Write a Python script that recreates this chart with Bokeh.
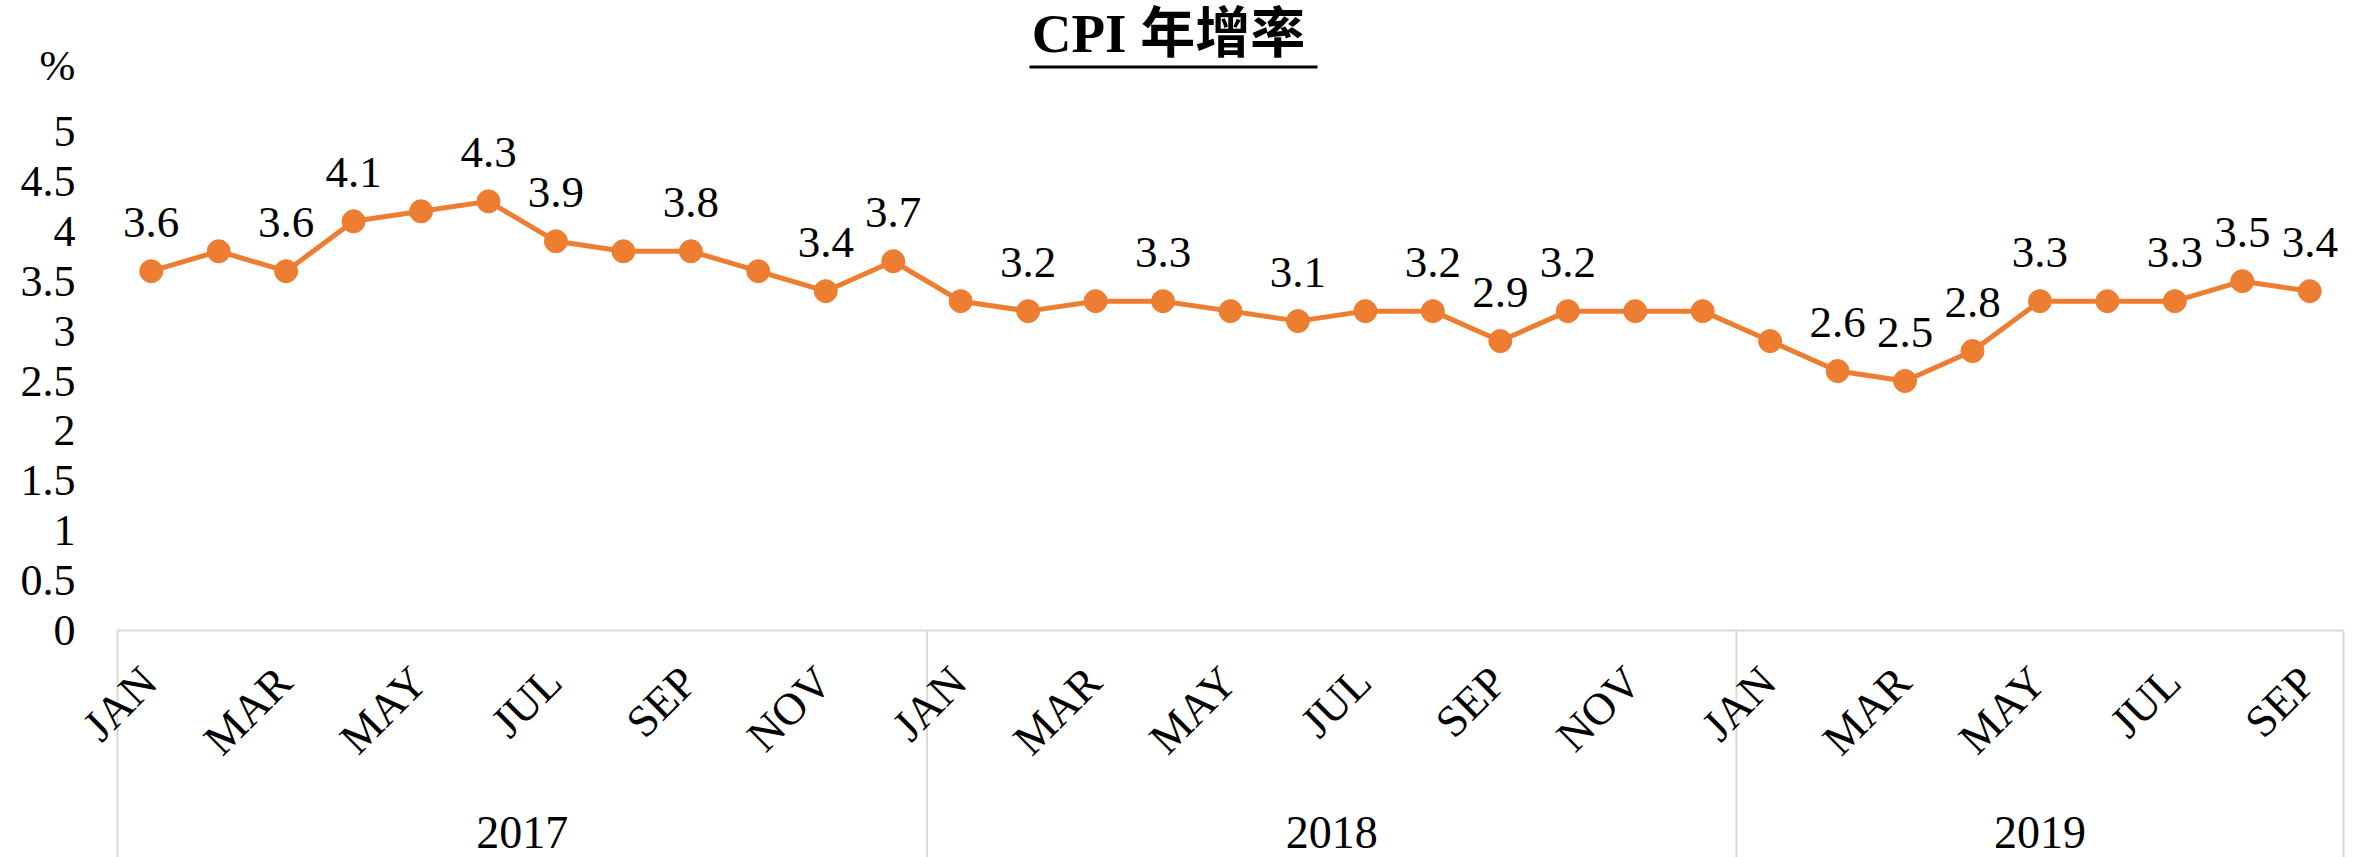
import math
from bokeh.plotting import figure
from bokeh.models import Range1d, FixedTicker, CustomJSTickFormatter, ColumnDataSource
from bokeh.core.properties import value
from bokeh.embed import file_html
from bokeh.resources import INLINE

# ---------------- data ----------------
YEARS = ["2017", "2018", "2019"]
MONTHS_PER_YEAR = [12, 12, 9]
MONTH_NAMES = ["JAN", "FEB", "MAR", "APR", "MAY", "JUN",
               "JUL", "AUG", "SEP", "OCT", "NOV", "DEC"]
CPI_2017 = [3.6, 3.8, 3.6, 4.1, 4.2, 4.3, 3.9, 3.8, 3.8, 3.6, 3.4, 3.7]
CPI_2018 = [3.3, 3.2, 3.3, 3.3, 3.2, 3.1, 3.2, 3.2, 2.9, 3.2, 3.2, 3.2]
CPI_2019 = [2.9, 2.6, 2.5, 2.8, 3.3, 3.3, 3.3, 3.5, 3.4]
# points that carry a data label (index into the 33-month series)
LABELED = [0, 2, 3, 5, 6, 8, 10, 11, 13, 15, 17, 19, 20, 21, 25, 26, 27, 28, 30, 31, 32]
Y_TICKS = [0, 0.5, 1, 1.5, 2, 2.5, 3, 3.5, 4, 4.5, 5]
TITLE = "CPI 年增率"
UNIT = "%"

# ---------------- layout constants ----------------
W, H = 2366, 857
FRAME_R = 2348              # frame right edge (px)
X0_PX, X33_PX = 117, 2343   # category axis extent (px)
Y0_PX, Y5_PX = 630, 131     # value 0 and value 5 (px from top)
PX_X = (X33_PX - X0_PX) / 33.0
PX_Y = (Y0_PX - Y5_PX) / 5.0

def sx(px):
    return (px - X0_PX) / PX_X

def sy(py):
    return (Y0_PX - py) / PX_Y

SERIF = "'Liberation Serif', 'Times New Roman', serif"
TITLE_FONT = "'Liberation Serif', 'Noto Sans CJK TC', serif"
ORANGE = "#ED7D31"
GREY = "#D9D9D9"

values = CPI_2017 + CPI_2018 + CPI_2019
n = len(values)
xs = [i + 0.5 for i in range(n)]

p = figure(width=W, height=H, output_backend="svg", toolbar_location=None,
           x_axis_location=None, y_axis_location="left",
           x_range=Range1d(sx(0), sx(FRAME_R)),
           y_range=Range1d(sy(H), sy(0)),
           min_border_left=0, min_border_right=W - FRAME_R,
           min_border_top=0, min_border_bottom=0)
p.outline_line_color = None
p.grid.visible = False
p.background_fill_color = "white"
p.border_fill_color = "white"

# y axis, drawn at the left edge of the category area
ya = p.yaxis[0]
ya.fixed_location = 0
ya.ticker = FixedTicker(ticks=Y_TICKS)
ya.formatter = CustomJSTickFormatter(code="return tick.toString();")
ya.axis_line_color = None
ya.major_tick_line_color = None
ya.minor_tick_line_color = None
ya.major_tick_out = 0
ya.major_tick_in = 0
ya.major_label_standoff = X0_PX - 75
ya.major_label_text_font = SERIF
ya.major_label_text_font_size = "44px"
ya.major_label_text_color = "black"

# category axis line and year separators
bounds = [0]
for m in MONTHS_PER_YEAR:
    bounds.append(bounds[-1] + m)
p.segment(x0=[0], y0=[0], x1=[n], y1=[0], line_color=GREY, line_width=2)
p.segment(x0=bounds, y0=[0] * len(bounds), x1=bounds, y1=[sy(H)] * len(bounds),
          line_color=GREY, line_width=2)

# month labels (every other month)
mx, mt = [], []
k = 0
for yi, m in enumerate(MONTHS_PER_YEAR):
    for j in range(m):
        if j % 2 == 0:
            mx.append(k + 0.5)
            mt.append(MONTH_NAMES[j])
        k += 1
p.text(x=mx, y=[0] * len(mx), text=mt, angle=math.pi / 4,
       text_align="right", text_baseline="middle", y_offset=44, x_offset=-2,
       text_font=value(SERIF), text_font_size="45px", text_color="black")

# year labels
yc = [(bounds[i] + bounds[i + 1]) / 2 for i in range(len(YEARS))]
p.text(x=yc, y=[0] * len(yc), text=YEARS, text_align="center", text_baseline="middle",
       y_offset=202, text_font=value(SERIF), text_font_size="46px", text_color="black")

# series
src = ColumnDataSource(dict(x=xs, y=values))
p.line("x", "y", source=src, line_color=ORANGE, line_width=5)
p.scatter("x", "y", source=src, size=23, fill_color=ORANGE, line_color=ORANGE)

lx = [xs[i] for i in LABELED]
ly = [values[i] for i in LABELED]
lt = [f"{values[i]:.1f}" for i in LABELED]
p.text(x=lx, y=ly, text=lt, text_align="center", text_baseline="middle",
       y_offset=-49, text_font=value(SERIF), text_font_size="45px", text_color="black")

# title with underline
p.text(x=[sx(1168)], y=[sy(33)], text=[TITLE], text_align="center",
       text_baseline="middle", text_font=value(TITLE_FONT),
       text_font_size="55px", text_font_style="bold", text_color="black")
p.segment(x0=[sx(1029)], y0=[sy(66.5)], x1=[sx(1317)], y1=[sy(66.5)],
          line_color="black", line_width=3)

# unit label
p.text(x=[sx(57)], y=[sy(65)], text=[UNIT], text_align="center",
       text_baseline="middle", text_font=value(SERIF),
       text_font_size="43px", text_color="black")

open("out.html", "w").write(file_html(p, INLINE))
